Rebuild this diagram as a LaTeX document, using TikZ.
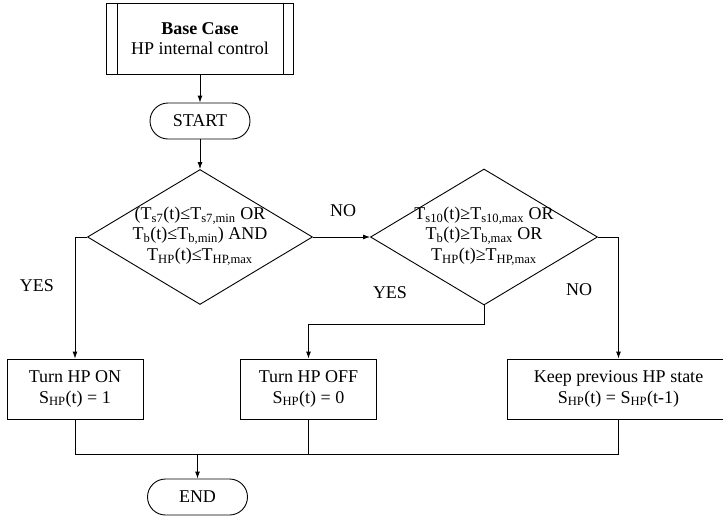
\documentclass[tikz,border=0pt]{standalone}
\usepackage{fontspec}
\setmainfont{Liberation Serif}
\usetikzlibrary{shapes.geometric,arrows.meta,calc}
\newcommand\sbx[1]{\textsubscript{#1}}
\begin{document}
\begin{tikzpicture}[x=1pt,y=-1pt, line width=0.9pt,
  every node/.style={font=\fontsize{18}{20.5}\selectfont},
  box/.style={draw, rectangle, align=center, inner sep=0pt},
  term/.style={draw, rectangle, rounded corners=18pt, minimum width=100pt, minimum height=36pt, inner sep=0pt},
  dia/.style={draw, diamond, inner sep=0pt},
  arr/.style={-{Latex[length=7pt,width=5pt]}},
  lbl/.style={inner sep=0pt}
]
\useasboundingbox (0,0) rectangle (723,517);
% base case
\node[box, minimum width=187pt, minimum height=71pt] (base) at (200,38.5) {\textbf{Base Case}\\HP internal control};
\draw ([xshift=11pt]base.north west) -- ([xshift=11pt]base.south west);
\draw ([xshift=-11pt]base.north east) -- ([xshift=-11pt]base.south east);
% start / end
\node[term] (start) at (200,121) {START};
\node[term] (end) at (197.5,497) {END};
% decisions
\node[dia, minimum width=225pt, minimum height=135pt] (d1) at (200,237) {};
\node[align=center, inner sep=0pt] (d1t) at ([yshift=1pt]d1.center) {(T\sbx{s7}(t)≤T\sbx{s7,min} OR\\T\sbx{b}(t)≤T\sbx{b,min}) AND\\T\sbx{HP}(t)≤T\sbx{HP,max}};
\node[dia, minimum width=227pt, minimum height=136pt] (d2) at (484,237) {};
\node[align=center, inner sep=0pt] (d2t) at ([yshift=1pt]d2.center) {T\sbx{s10}(t)≥T\sbx{s10,max} OR\\T\sbx{b}(t)≥T\sbx{b,max} OR\\T\sbx{HP}(t)≥T\sbx{HP,max}};
% actions
\node[box, minimum width=136pt, minimum height=60pt] (on) at (75,389) {Turn HP ON\\S\sbx{HP}(t) = 1};
\node[box, minimum width=136pt, minimum height=60pt] (off) at (308.5,389) {Turn HP OFF\\S\sbx{HP}(t) = 0};
\node[box, minimum width=223pt, minimum height=60pt] (keep) at (618.5,389) {Keep previous HP state\\S\sbx{HP}(t) = S\sbx{HP}(t-1)};
% labels
\node[lbl] (no1) at (343,211) {NO};
\node[lbl] (yes1) at (37,286) {YES};
\node[lbl] (yes2) at (390,293) {YES};
\node[lbl] (no2) at (579,290) {NO};
% connectors
\draw[arr] (base.south) -- (start.north);
\draw[arr] (start.south) -- (d1.north);
\draw[arr] (d1.east) -- (d2.west);
\draw[arr] (d1.west) -| (on.north);
\draw[arr] (d2.south) -- ++(0,19) -| (off.north);
\draw[arr] (d2.east) -| (keep.north);
\coordinate (m) at (197.5,454);
\draw (on.south) |- (m);
\draw (off.south) |- (m);
\draw (keep.south) |- (m);
\draw[arr] (m) -- (end.north);
\end{tikzpicture}
\end{document}
